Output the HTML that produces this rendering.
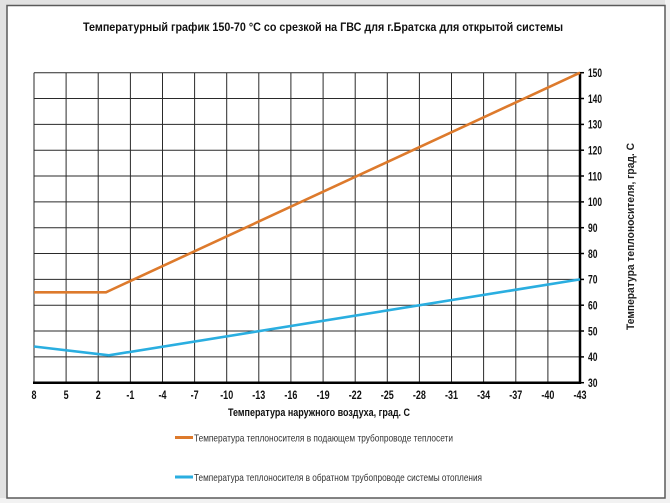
<!DOCTYPE html>
<html>
<head>
<meta charset="utf-8">
<style>
  html,body{margin:0;padding:0;background:#e6e6e6;}
  svg{display:block;}
  text{font-family:"Liberation Sans","DejaVu Sans",sans-serif;}
</style>
</head>
<body>
<svg width="670" height="503" viewBox="0 0 670 503" xmlns="http://www.w3.org/2000/svg">
  <rect x="0" y="0" width="670" height="503" fill="#e2e2e2"/>
  <rect x="665" y="0" width="5" height="503" fill="#f2f2f2"/>
  <rect x="0" y="498" width="670" height="5" fill="#f2f2f2"/>
  <rect x="7" y="5.5" width="658" height="492.5" fill="#ffffff" stroke="#5a5a5a" stroke-width="1.5"/>

  <text x="83" y="31" font-size="12" font-weight="bold" fill="#111" textLength="480" lengthAdjust="spacingAndGlyphs">Температурный график 150-70 °С со срезкой на ГВС для г.Братска для открытой системы</text>

  <g stroke="#2a2a2a" stroke-width="1" fill="none">
    <line x1="34" y1="72.7" x2="34" y2="382.7"/>
    <line x1="66.1" y1="72.7" x2="66.1" y2="382.7"/>
    <line x1="98.2" y1="72.7" x2="98.2" y2="382.7"/>
    <line x1="130.4" y1="72.7" x2="130.4" y2="382.7"/>
    <line x1="162.5" y1="72.7" x2="162.5" y2="382.7"/>
    <line x1="194.6" y1="72.7" x2="194.6" y2="382.7"/>
    <line x1="226.7" y1="72.7" x2="226.7" y2="382.7"/>
    <line x1="258.8" y1="72.7" x2="258.8" y2="382.7"/>
    <line x1="290.9" y1="72.7" x2="290.9" y2="382.7"/>
    <line x1="323.1" y1="72.7" x2="323.1" y2="382.7"/>
    <line x1="355.2" y1="72.7" x2="355.2" y2="382.7"/>
    <line x1="387.3" y1="72.7" x2="387.3" y2="382.7"/>
    <line x1="419.4" y1="72.7" x2="419.4" y2="382.7"/>
    <line x1="451.5" y1="72.7" x2="451.5" y2="382.7"/>
    <line x1="483.6" y1="72.7" x2="483.6" y2="382.7"/>
    <line x1="515.8" y1="72.7" x2="515.8" y2="382.7"/>
    <line x1="547.9" y1="72.7" x2="547.9" y2="382.7"/>

    <line x1="34" y1="72.7" x2="580" y2="72.7"/>
    <line x1="34" y1="98.5" x2="580" y2="98.5"/>
    <line x1="34" y1="124.4" x2="580" y2="124.4"/>
    <line x1="34" y1="150.2" x2="580" y2="150.2"/>
    <line x1="34" y1="176.0" x2="580" y2="176.0"/>
    <line x1="34" y1="201.9" x2="580" y2="201.9"/>
    <line x1="34" y1="227.7" x2="580" y2="227.7"/>
    <line x1="34" y1="253.5" x2="580" y2="253.5"/>
    <line x1="34" y1="279.4" x2="580" y2="279.4"/>
    <line x1="34" y1="305.2" x2="580" y2="305.2"/>
    <line x1="34" y1="331.0" x2="580" y2="331.0"/>
    <line x1="34" y1="356.9" x2="580" y2="356.9"/>
  </g>

  <!-- axes -->
  <g stroke="#000" stroke-width="2.5">
    <line x1="33" y1="382.7" x2="581" y2="382.7"/>
    <line x1="580" y1="72" x2="580" y2="383.9"/>
  </g>
  <g stroke="#000" stroke-width="1.5">
    <line x1="580" y1="72.7" x2="584" y2="72.7"/>
    <line x1="580" y1="98.5" x2="584" y2="98.5"/>
    <line x1="580" y1="124.4" x2="584" y2="124.4"/>
    <line x1="580" y1="150.2" x2="584" y2="150.2"/>
    <line x1="580" y1="176.0" x2="584" y2="176.0"/>
    <line x1="580" y1="201.9" x2="584" y2="201.9"/>
    <line x1="580" y1="227.7" x2="584" y2="227.7"/>
    <line x1="580" y1="253.5" x2="584" y2="253.5"/>
    <line x1="580" y1="279.4" x2="584" y2="279.4"/>
    <line x1="580" y1="305.2" x2="584" y2="305.2"/>
    <line x1="580" y1="331.0" x2="584" y2="331.0"/>
    <line x1="580" y1="356.9" x2="584" y2="356.9"/>
    <line x1="580" y1="382.7" x2="584" y2="382.7"/>
  </g>

  <!-- series -->
  <polyline points="34,292.3 106,292.3 112,289.5 580,72.7" fill="none" stroke="#dd7a2c" stroke-width="2.6" stroke-linejoin="round"/>
  <polyline points="34,346.5 108.9,355.3 580,279.4" fill="none" stroke="#2aaee0" stroke-width="2.6" stroke-linejoin="round"/>

  <!-- y labels -->
  <g font-size="12" font-weight="bold" fill="#111">
    <text x="588" y="77" textLength="14" lengthAdjust="spacingAndGlyphs">150</text>
    <text x="588" y="102.8" textLength="14" lengthAdjust="spacingAndGlyphs">140</text>
    <text x="588" y="128.7" textLength="14" lengthAdjust="spacingAndGlyphs">130</text>
    <text x="588" y="154.5" textLength="14" lengthAdjust="spacingAndGlyphs">120</text>
    <text x="588" y="180.3" textLength="14" lengthAdjust="spacingAndGlyphs">110</text>
    <text x="588" y="206.2" textLength="14" lengthAdjust="spacingAndGlyphs">100</text>
    <text x="588" y="232" textLength="9.5" lengthAdjust="spacingAndGlyphs">90</text>
    <text x="588" y="257.8" textLength="9.5" lengthAdjust="spacingAndGlyphs">80</text>
    <text x="588" y="283.7" textLength="9.5" lengthAdjust="spacingAndGlyphs">70</text>
    <text x="588" y="309.5" textLength="9.5" lengthAdjust="spacingAndGlyphs">60</text>
    <text x="588" y="335.3" textLength="9.5" lengthAdjust="spacingAndGlyphs">50</text>
    <text x="588" y="361.2" textLength="9.5" lengthAdjust="spacingAndGlyphs">40</text>
    <text x="588" y="387" textLength="9.5" lengthAdjust="spacingAndGlyphs">30</text>
  </g>

  <!-- x labels -->
  <g font-size="12" font-weight="bold" fill="#111" text-anchor="middle">
    <text x="34" y="399" textLength="5" lengthAdjust="spacingAndGlyphs">8</text>
    <text x="66.1" y="399" textLength="5" lengthAdjust="spacingAndGlyphs">5</text>
    <text x="98.2" y="399" textLength="5" lengthAdjust="spacingAndGlyphs">2</text>
    <text x="130.4" y="399" textLength="8" lengthAdjust="spacingAndGlyphs">-1</text>
    <text x="162.5" y="399" textLength="8" lengthAdjust="spacingAndGlyphs">-4</text>
    <text x="194.6" y="399" textLength="8" lengthAdjust="spacingAndGlyphs">-7</text>
    <text x="226.7" y="399" textLength="13" lengthAdjust="spacingAndGlyphs">-10</text>
    <text x="258.8" y="399" textLength="13" lengthAdjust="spacingAndGlyphs">-13</text>
    <text x="290.9" y="399" textLength="13" lengthAdjust="spacingAndGlyphs">-16</text>
    <text x="323.1" y="399" textLength="13" lengthAdjust="spacingAndGlyphs">-19</text>
    <text x="355.2" y="399" textLength="13" lengthAdjust="spacingAndGlyphs">-22</text>
    <text x="387.3" y="399" textLength="13" lengthAdjust="spacingAndGlyphs">-25</text>
    <text x="419.4" y="399" textLength="13" lengthAdjust="spacingAndGlyphs">-28</text>
    <text x="451.5" y="399" textLength="13" lengthAdjust="spacingAndGlyphs">-31</text>
    <text x="483.6" y="399" textLength="13" lengthAdjust="spacingAndGlyphs">-34</text>
    <text x="515.8" y="399" textLength="13" lengthAdjust="spacingAndGlyphs">-37</text>
    <text x="547.9" y="399" textLength="13" lengthAdjust="spacingAndGlyphs">-40</text>
    <text x="580" y="399" textLength="13" lengthAdjust="spacingAndGlyphs">-43</text>
  </g>

  <!-- axis titles -->
  <text x="228" y="416" font-size="11" font-weight="bold" fill="#111" textLength="182" lengthAdjust="spacingAndGlyphs">Температура наружного воздуха, град. С</text>
  <text transform="translate(634,330) rotate(-90)" x="0" y="0" font-size="11" font-weight="bold" fill="#222" textLength="187" lengthAdjust="spacingAndGlyphs">Температура теплоносителя, град. С</text>

  <!-- legend -->
  <line x1="175" y1="437.5" x2="193" y2="437.5" stroke="#dd7a2c" stroke-width="3"/>
  <text x="194" y="441.5" font-size="10.5" fill="#333" textLength="259" lengthAdjust="spacingAndGlyphs">Температура  теплоносителя  в подающем  трубопроводе  теплосети</text>
  <line x1="175" y1="477" x2="193" y2="477" stroke="#2aaee0" stroke-width="3"/>
  <text x="194" y="481" font-size="10.5" fill="#333" textLength="288" lengthAdjust="spacingAndGlyphs">Температура  теплоносителя  в обратном  трубопроводе  системы отопления</text>
</svg>
</body>
</html>
